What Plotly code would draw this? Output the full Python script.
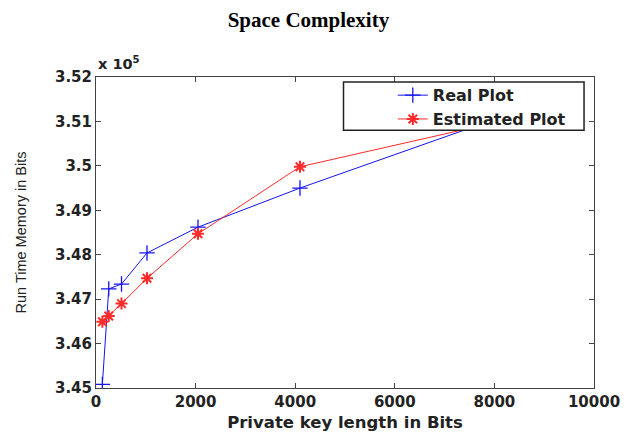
import plotly.graph_objects as go

# Data
key_bits = [128, 256, 512, 1024, 2048, 4096, 8192]
real_mem = [345080, 347230, 347340, 348040, 348620, 349500, 351120]
est_mem = [346490, 346620, 346900, 347470, 348470, 349980, 351020]

x_ticks = [0, 2000, 4000, 6000, 8000, 10000]
y_ticks = [345000, 346000, 347000, 348000, 349000, 350000, 351000, 352000]
y_tick_text = ["3.45", "3.46", "3.47", "3.48", "3.49", "3.5", "3.51", "3.52"]

tick_font = dict(family="DejaVu Sans", size=15, color="#222222", weight="bold")

fig = go.Figure()
fig.add_trace(go.Scatter(
    x=key_bits, y=real_mem, mode="lines+markers", name="Real Plot",
    line=dict(color="#1414f0", width=1),
    marker=dict(symbol="cross-thin", size=11, line=dict(color="#1414f0", width=1.3)),
))
fig.add_trace(go.Scatter(
    x=key_bits, y=est_mem, mode="lines+markers", name="Estimated Plot",
    line=dict(color="#ff2a2a", width=1),
    marker=dict(symbol="asterisk", size=10, line=dict(color="#ff2a2a", width=2)),
))

axis_common = dict(
    showline=True, linecolor="#444444", linewidth=1, mirror="ticks",
    ticks="inside", ticklen=5, tickcolor="#444444", tickwidth=1,
    showgrid=False, zeroline=False, tickfont=tick_font,
)

fig.update_layout(
    width=632, height=441,
    margin=dict(l=96, r=35, t=77, b=49),
    paper_bgcolor="white", plot_bgcolor="white",
    title=dict(text="<b>Space Complexity</b>", x=0.488, xref="container", xanchor="center",
               y=0.972, yref="container", yanchor="top",
               font=dict(family="Liberation Serif", size=21, color="black")),
    xaxis=dict(range=[0, 10000], tickvals=x_ticks, ticktext=[str(v) for v in x_ticks],
               title=dict(text="Private key length in Bits", standoff=6,
                          font=dict(family="DejaVu Sans", size=16.5, color="#222222", weight="bold")),
               **axis_common),
    yaxis=dict(range=[345000, 352000], tickvals=y_ticks, ticktext=y_tick_text,
               title=dict(text="Run Time Memory in Bits", standoff=24,
                          font=dict(family="Liberation Sans", size=14.5, color="#222222")),
               **axis_common),
    legend=dict(x=0.596, y=0.996, xanchor="left", yanchor="top",
                bgcolor="rgba(0,0,0,0)", borderwidth=0,
                font=dict(family="DejaVu Sans", size=16, color="#222222", weight="bold"),
                itemwidth=30, tracegroupgap=0),
    showlegend=True,
    shapes=[dict(type="rect", xref="paper", yref="paper", x0=0.497, x1=0.98, y0=0.8286, y1=0.984,
                 fillcolor="white", line=dict(color="#222222", width=1.5), layer="above")],
    annotations=[dict(text="x 10<sup>5</sup>", xref="paper", yref="paper", x=0.0, y=1.0,
                      xanchor="left", yanchor="bottom", yshift=3, showarrow=False,
                      font=dict(family="DejaVu Sans", size=14.5, color="#222222", weight="bold"))],
)

fig.write_html("out.html")
